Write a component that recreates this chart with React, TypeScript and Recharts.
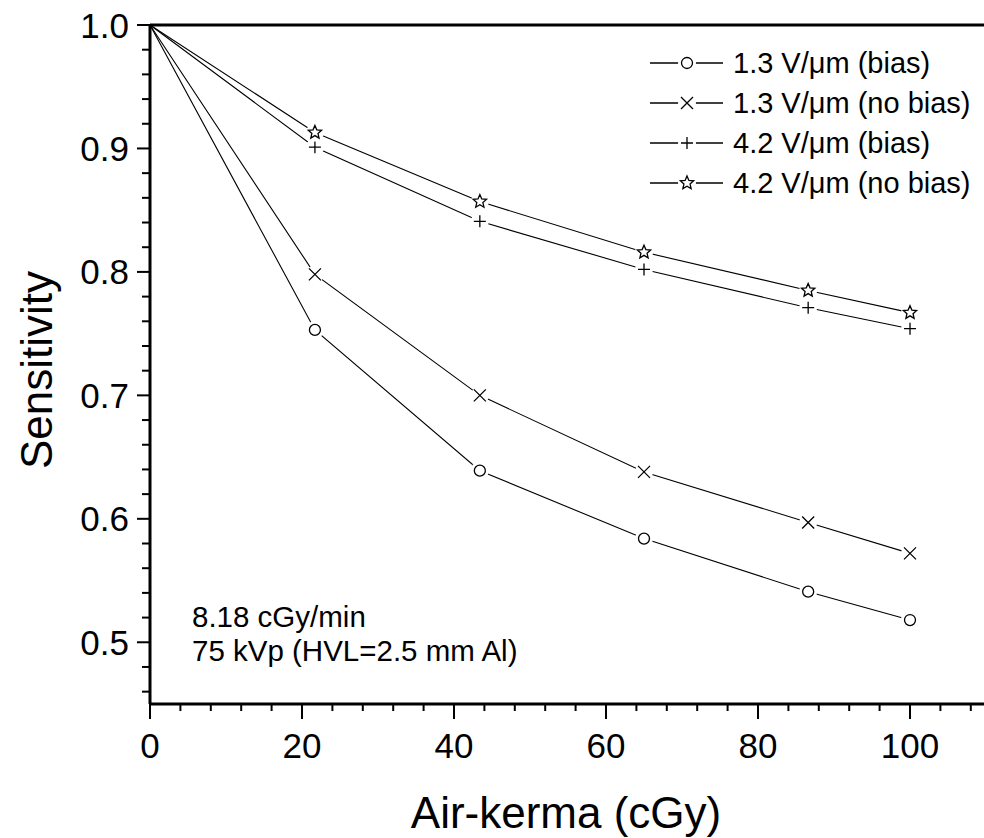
import React from 'react'
import { LineChart, Line, XAxis, YAxis, Legend, ReferenceLine } from 'recharts'

// air-kerma dose points (cGy)
const doseX = [0, 21.7, 43.4, 65.0, 86.6, 100]

const bias13 = [1.0, 0.753, 0.639, 0.584, 0.541, 0.518]
const noBias13 = [1.0, 0.798, 0.7, 0.638, 0.597, 0.572]
const bias42 = [1.0, 0.901, 0.841, 0.802, 0.771, 0.754]
const noBias42 = [1.0, 0.913, 0.857, 0.816, 0.785, 0.767]

const xMajor = [0, 20, 40, 60, 80, 100]
const xTicks = [0, 4, 8, 12, 16, 20, 24, 28, 32, 36, 40, 44, 48, 52, 56, 60, 64, 68, 72, 76, 80, 84, 88, 92, 96, 100, 104, 108]
const yMajor = [0.5, 0.6, 0.7, 0.8, 0.9, 1.0]
const yTicks = [0.46, 0.48, 0.5, 0.52, 0.54, 0.56, 0.58, 0.6, 0.62, 0.64, 0.66, 0.68, 0.7, 0.72, 0.74, 0.76, 0.78, 0.8, 0.82, 0.84, 0.86, 0.88, 0.9, 0.92, 0.94, 0.96, 0.98, 1.0]

const series = [
  { key: 'bias13', name: '1.3 V/\u03bcm (bias)', shape: 'circle' },
  { key: 'noBias13', name: '1.3 V/\u03bcm (no bias)', shape: 'cross' },
  { key: 'bias42', name: '4.2 V/\u03bcm (bias)', shape: 'plus' },
  { key: 'noBias42', name: '4.2 V/\u03bcm (no bias)', shape: 'star' },
]

const data = doseX.map((x, i) => ({
  x,
  bias13: bias13[i],
  noBias13: noBias13[i],
  bias42: bias42[i],
  noBias42: noBias42[i],
}))

const FONT = '"Liberation Sans", Arial, Helvetica, sans-serif'

function starPoints(cx: number, cy: number, outer: number, inner: number) {
  const pts: string[] = []
  for (let k = 0; k < 10; k++) {
    const r = k % 2 === 0 ? outer : inner
    const a = -Math.PI / 2 + (k * Math.PI) / 5
    pts.push(`${cx + r * Math.cos(a)},${cy + r * Math.sin(a)}`)
  }
  return pts.join(' ')
}

function Marker({ cx, cy, shape, halo = true }: { cx: number; cy: number; shape: string; halo?: boolean }) {
  const s = { stroke: '#000', strokeWidth: 1.3, fill: 'none' }
  let mark: React.ReactNode = null
  if (shape === 'circle') mark = <circle cx={cx} cy={cy} r={5.5} {...s} fill="#fff" />
  if (shape === 'cross')
    mark = (
      <path d={`M${cx - 6},${cy - 6}L${cx + 6},${cy + 6}M${cx - 6},${cy + 6}L${cx + 6},${cy - 6}`} {...s} />
    )
  if (shape === 'plus')
    mark = <path d={`M${cx - 6},${cy}L${cx + 6},${cy}M${cx},${cy - 6}L${cx},${cy + 6}`} {...s} />
  if (shape === 'star') mark = <polygon points={starPoints(cx, cy, 7, 3.2)} {...s} fill="#fff" />
  return (
    <g>
      {halo && <circle cx={cx} cy={cy} r={9} fill="#fff" />}
      {mark}
    </g>
  )
}

const XTick = ({ x, y, payload }: any) => {
  const v = payload.value
  const major = xMajor.includes(v)
  return (
    <g>
      <line x1={x} x2={x} y1={y} y2={y + (major ? 15 : 7)} stroke="#000" strokeWidth={2} />
      {major && (
        <text x={x} y={y + 54} textAnchor="middle" fontSize={35} fontFamily={FONT} fill="#000">
          {v}
        </text>
      )}
    </g>
  )
}

const YTick = ({ x, y, payload }: any) => {
  const v = payload.value
  const major = yMajor.some((m) => Math.abs(m - v) < 1e-6)
  return (
    <g>
      <line x1={x - (major ? 13 : 8)} x2={x} y1={y} y2={y} stroke="#000" strokeWidth={2} />
      {major && (
        <text x={x - 21} y={y + 12.5} textAnchor="end" fontSize={35} fontFamily={FONT} fill="#000">
          {v.toFixed(1)}
        </text>
      )}
    </g>
  )
}

const LegendBox = () => (
  <svg width={340} height={170} style={{ display: 'block' }}>
    {series.map((s, i) => {
      const cy = 19 + 40 * i
      return (
        <g key={s.key}>
          <line x1={5} x2={78} y1={cy} y2={cy} stroke="#000" strokeWidth={1.3} />
          <Marker cx={42} cy={cy} shape={s.shape} />
          <text x={88} y={cy + 10} fontSize={29} fontFamily={FONT} fill="#000">
            {s.name}
          </text>
        </g>
      )
    })}
  </svg>
)

export default function App() {
  return (
    <div style={{ position: 'absolute', left: 0, top: 0, width: 984, height: 838, overflow: 'hidden', background: '#fff' }}>
      <LineChart width={1000} height={838} data={data} margin={{ top: 25, right: 14, bottom: 0, left: 0 }}>
        <XAxis
          dataKey="x"
          type="number"
          domain={[0, 110]}
          ticks={xTicks}
          interval={0}
          tickSize={0}
          tickMargin={0}
          tickLine={false}
          tick={<XTick />}
          height={134}
          axisLine={{ stroke: '#000', strokeWidth: 3 }}
        />
        <YAxis
          type="number"
          domain={[0.45, 1.0]}
          ticks={yTicks}
          interval={0}
          tickSize={0}
          tickMargin={0}
          tickLine={false}
          tick={<YTick />}
          width={150}
          axisLine={{ stroke: '#000', strokeWidth: 3 }}
        />
        <ReferenceLine y={1.0} stroke="#000" strokeWidth={3} />
        {series.map((s) => (
          <Line
            key={s.key}
            dataKey={s.key}
            name={s.name}
            type="linear"
            stroke="#000"
            strokeWidth={1.1}
            isAnimationActive={false}
            activeDot={false}
            dot={(p: any) =>
              p.index === 0 ? (
                <g key={`${s.key}-${p.index}`} />
              ) : (
                <Marker key={`${s.key}-${p.index}`} cx={p.cx} cy={p.cy} shape={s.shape} />
              )
            }
          />
        ))}
        <Legend
          layout="horizontal"
          verticalAlign="middle"
          align="center"
          content={<LegendBox />}
          wrapperStyle={{ position: 'absolute', top: 44, left: 645, width: 340 }}
        />
        <text x={192} y={627} fontSize={29.5} fontFamily={FONT} fill="#000">
          8.18 cGy/min
        </text>
        <text x={192} y={661} fontSize={29.5} fontFamily={FONT} fill="#000">
          75 kVp (HVL=2.5 mm Al)
        </text>
        <text x={566} y={828} textAnchor="middle" fontSize={44} fontFamily={FONT} fill="#000">
          Air-kerma (cGy)
        </text>
        <text
          x={52}
          y={370}
          transform="rotate(-90 52 370)"
          textAnchor="middle"
          fontSize={44}
          fontFamily={FONT}
          fill="#000"
        >
          Sensitivity
        </text>
      </LineChart>
    </div>
  )
}
